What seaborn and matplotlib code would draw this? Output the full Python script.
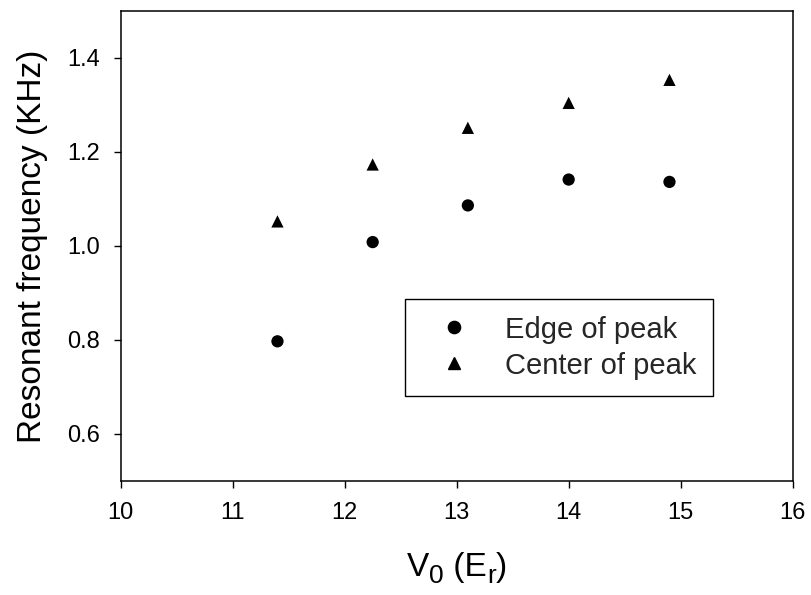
import matplotlib
matplotlib.use("Agg")
import matplotlib.pyplot as plt
import seaborn as sns
import pandas as pd

# Trap depth (recoil energies) and measured resonant frequencies (kHz)
v0 = [11.4, 12.25, 13.1, 14.0, 14.9]
edge_of_peak = [0.797, 1.008, 1.086, 1.141, 1.136]
center_of_peak = [1.052, 1.173, 1.251, 1.304, 1.353]
series_names = ["Edge of peak", "Center of peak"]
x_ticks = [10, 11, 12, 13, 14, 15, 16]
y_ticks = [0.6, 0.8, 1.0, 1.2, 1.4]

sns.set_theme(style="ticks")
plt.rcParams["font.family"] = ["Liberation Sans", "DejaVu Sans"]

df = pd.DataFrame({
    "V0": v0 + v0,
    "freq": edge_of_peak + center_of_peak,
    "series": [series_names[0]] * len(v0) + [series_names[1]] * len(v0),
})

W, H = 812, 595
fig = plt.figure(figsize=(W / 100, H / 100), dpi=100)
ax = fig.add_axes([0.1486, 0.1916, 0.8276, 0.7904])

sns.scatterplot(
    data=df, x="V0", y="freq", style="series",
    markers={series_names[0]: "o", series_names[1]: "^"},
    color="black", s=78, linewidth=0, ax=ax, legend=False,
)

ax.set_xlim(10, 16)
ax.set_ylim(0.5, 1.5)
ax.set_xticks(x_ticks)
ax.set_yticks(y_ticks)
ax.set_xticklabels([str(t) for t in x_ticks])
ax.set_yticklabels([f"{t:.1f}" for t in y_ticks])
ax.tick_params(axis="both", direction="out", length=5, width=1,
               color="black", labelsize=17, labelcolor="black", pad=10)
for sp in ax.spines.values():
    sp.set_visible(True)
    sp.set_color("black")
    sp.set_linewidth(1.1)

ax.set_xlabel("")
ax.set_ylabel("Resonant frequency (KHz)", fontsize=24, color="black", labelpad=14)

# x-axis label built from text runs so the subscripts keep a large size
runs = [("V", 24, 0), ("0", 19, -7), (" (E", 24, 0), ("r", 19, -7), (")", 24, 0)]
renderer = fig.canvas.get_renderer()
pieces = []
for txt, size, dy in runs:
    t = fig.text(0, 0, txt, fontsize=size, color="black", va="baseline", ha="left")
    pieces.append((t, dy))
widths = [t.get_window_extent(renderer).width for t, _ in pieces]
total = sum(widths)
x_center_px = 457
baseline_px = H - 576
x = x_center_px - total / 2
for (t, dy), w in zip(pieces, widths):
    t.set_position((x / W, (baseline_px + dy) / H))
    x += w

handles = [
    plt.Line2D([], [], marker="o", linestyle="none", color="black", markersize=8.8),
    plt.Line2D([], [], marker="^", linestyle="none", color="black", markersize=9),
]
leg = ax.legend(
    handles, series_names, loc="upper left",
    bbox_to_anchor=(405 / W, 1 - 299 / H), bbox_transform=fig.transFigure,
    borderaxespad=0, fontsize=21, frameon=True, fancybox=False,
    edgecolor="black", framealpha=1, borderpad=0.57, labelspacing=0.27,
    handlelength=2.2, handletextpad=0.67,
)
leg.get_frame().set_linewidth(1.0)

fig.savefig("out.png", dpi=100)
